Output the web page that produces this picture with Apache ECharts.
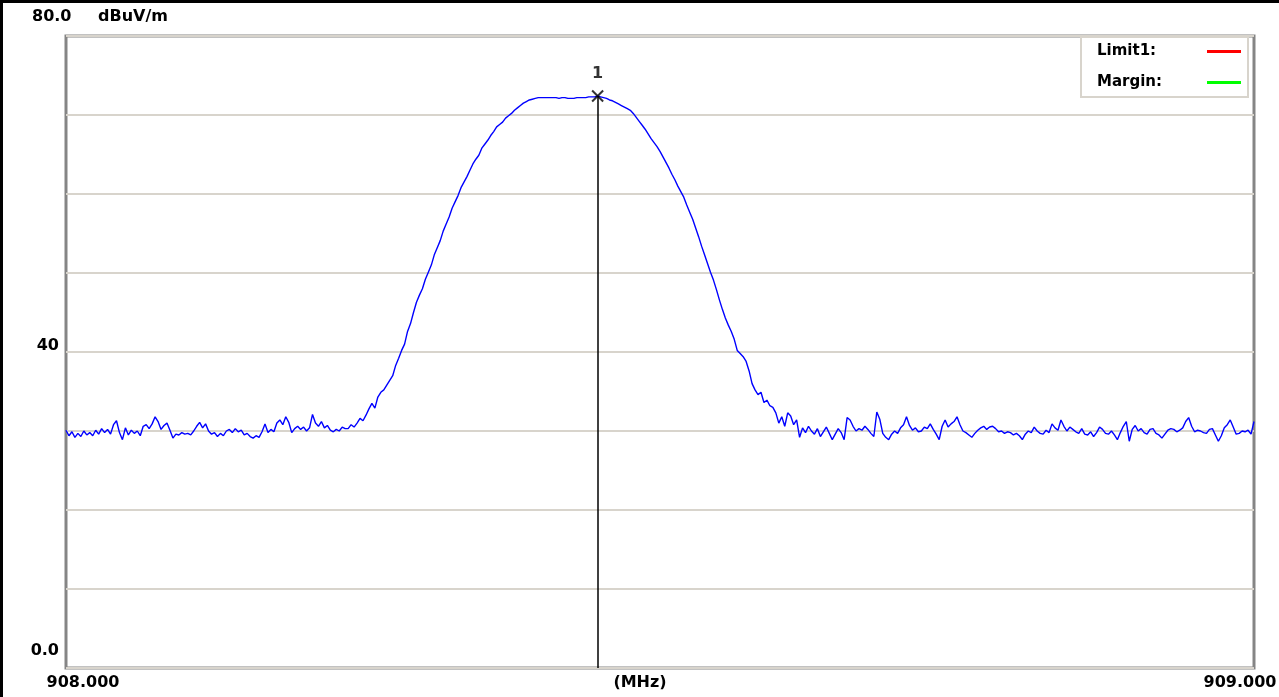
<!DOCTYPE html>
<html><head><meta charset="utf-8">
<script src="https://cdn.jsdelivr.net/npm/echarts@6/dist/echarts.min.js"></script>
<style>html,body{margin:0;padding:0;background:#fff;overflow:hidden}#c{width:1279px;height:697px}</style>
</head><body><div id="c"></div>
<script>
// ---- data ----
const startFreq = 908.0;      // MHz
const stopFreq = 909.0;       // MHz
const stepFreq = 0.0025;      // MHz per sweep point
const levels = [
30.1,29.4,29.9,29.2,29.7,29.3,30.0,29.5,29.8,29.4,
30.1,29.6,30.3,29.8,30.2,29.6,30.8,31.3,29.8,28.9,
30.4,29.5,30.1,29.7,30.0,29.4,30.6,30.8,30.3,30.9,
31.8,31.2,30.2,30.7,31.0,30.1,29.1,29.6,29.5,29.8,
29.6,29.7,29.5,30.0,30.6,31.1,30.4,30.9,30.0,29.6,
29.8,29.3,29.7,29.4,30.0,30.2,29.8,30.3,29.9,30.1,
29.5,29.7,29.3,29.1,29.4,29.2,29.9,30.9,29.8,30.2,
29.9,31.0,31.4,30.8,31.8,31.1,29.8,30.3,30.6,30.2,
30.5,30.0,30.4,32.1,31.0,30.6,31.2,30.4,30.7,30.1,
29.9,30.2,30.0,30.5,30.3,
30.3,30.8,30.5,31.0,31.6,
31.3,32.0,32.8,33.5,32.9,34.3,34.9,35.2,35.8,36.4,
37.0,38.3,39.2,40.2,41.0,42.6,43.6,45.0,46.3,47.2,
48.0,49.2,50.1,51.0,52.3,53.2,54.1,55.3,56.2,57.1,
58.2,59.0,59.8,60.8,61.5,62.2,63.0,63.8,64.4,64.9,
65.8,66.3,66.8,67.4,67.9,68.5,68.8,69.1,69.6,69.9,
70.2,70.6,70.9,71.2,71.5,71.7,71.9,72.0,72.1,72.2,
72.2,72.2,72.2,72.2,72.2,72.2,72.1,72.2,72.2,72.1,
72.1,72.1,72.2,72.2,72.2,72.2,72.3,72.3,72.3,
72.4,
72.3,72.2,72.1,71.9,71.8,71.6,71.4,71.2,71.0,70.8,
70.6,70.2,69.7,69.2,68.7,68.2,67.6,67.0,66.5,66.0,
65.4,64.7,64.0,63.3,62.5,61.8,61.0,60.3,59.6,58.6,
57.7,56.8,55.7,54.6,53.4,52.3,51.2,50.1,49.1,47.9,
46.6,45.4,44.3,43.4,42.6,41.6,40.2,39.8,39.4,38.8,
37.6,36.0,35.2,34.6,34.9,33.6,33.9,33.2,33.0,32.3,
31.0,31.8,30.6,32.3,31.9,30.8,31.4,29.2,
30.4,29.8,30.6,30.0,29.6,30.3,29.3,29.9,30.5,29.7,
28.9,29.6,30.3,29.8,28.9,31.7,31.4,30.6,30.0,30.3,
30.1,30.6,30.2,29.7,29.3,32.4,31.5,29.7,29.2,28.9,
29.6,30.0,29.7,30.4,30.8,31.8,30.7,30.1,30.4,29.9,
30.0,30.5,30.3,30.9,30.2,29.6,28.9,30.6,31.4,30.5,
30.9,31.2,31.8,30.8,30.0,29.8,29.5,29.2,29.7,30.1,
30.4,30.6,30.2,30.5,30.6,30.3,29.9,30.0,29.7,29.9,
29.8,29.5,29.7,29.4,28.9,29.6,30.0,29.8,30.5,30.0,
29.7,29.6,30.1,29.8,30.9,30.4,30.1,31.4,30.6,30.0,
30.5,30.2,29.9,29.7,30.3,29.6,29.5,29.9,29.3,29.8,
30.5,30.2,29.7,29.6,30.0,29.5,28.9,29.8,30.6,31.2,
28.7,30.2,30.7,30.0,30.3,29.8,29.6,30.2,30.3,29.7,
29.5,29.1,29.6,30.1,30.3,30.2,29.9,30.1,30.4,31.2,
31.7,30.6,29.9,30.1,30.0,29.8,29.7,30.2,30.3,29.5,
28.7,29.4,30.4,30.8,31.4,30.5,29.6,29.7,30.0,29.9,
30.1,29.6,31.2
];
const markerNames = ['1'];
const markerIndexes = [179];
const legendNames = ['Limit1:', 'Margin:'];
const legendColors = ['#ff0000', '#00ff00'];
const yTickValues = [80, 40, 0];
const yTickLabels = ['80.0', '40', '0.0'];
const xTickValues = [908.0, 909.0];
const xTickLabels = ['908.000', '909.000'];
const yUnit = 'dBuV/m';
const xUnit = '(MHz)';
const yMin = 0, yMax = 80, yStep = 10;

// ---- chart ----
const FONT = 'DejaVu Sans';
const trace = levels.map((v, i) => [startFreq + i * stepFreq, v]);
const markers = markerIndexes.map((idx, k) => ({
  value: [startFreq + idx * stepFreq, levels[idx]], name: markerNames[k]
}));

const chart = echarts.init(document.getElementById('c'), null, {renderer: 'canvas'});
const option = {
  animation: false,
  backgroundColor: '#ffffff',
  grid: {left: 66, top: 36, width: 1188, height: 632, show: true,
         borderColor: '#858585', borderWidth: 3, backgroundColor: '#ffffff'},
  xAxis: {type: 'value', min: startFreq, max: stopFreq,
          axisLine: {show: false}, axisTick: {show: false},
          axisLabel: {show: false}, splitLine: {show: false}},
  yAxis: {type: 'value', min: yMin, max: yMax, interval: yStep,
          axisLine: {show: false}, axisTick: {show: false}, axisLabel: {show: false},
          splitLine: {show: true, lineStyle: {color: '#d8d4cc', width: 2}}},
  legend: {
    data: legendNames, right: 31, top: 37, orient: 'vertical', align: 'right',
    icon: 'rect', itemWidth: 34, itemHeight: 3, itemGap: 16,
    padding: [7, 7, 7, 16], borderColor: '#d8d4cc', borderWidth: 2,
    backgroundColor: '#ffffff', selectedMode: false,
    formatter: n => '{t|' + n + '}',
    textStyle: {rich: {t: {width: 105, align: 'left', lineHeight: 18,
      fontFamily: FONT, fontWeight: 'bold', fontSize: 15, color: '#000'}}}
  },
  series: [
    {name: 'Trace', type: 'line', data: trace, showSymbol: false, z: 3,
     lineStyle: {color: '#0000ff', width: 1.4}, itemStyle: {color: '#0000ff'}},
    {name: legendNames[0], type: 'line', data: [], color: legendColors[0]},
    {name: legendNames[1], type: 'line', data: [], color: legendColors[1]},
    {name: 'Marker', type: 'scatter', data: markers, z: 5,
     symbol: 'path://M0,0L10,10M10,0L0,10', symbolSize: 11,
     itemStyle: {color: 'rgba(0,0,0,0)', borderColor: '#000', borderWidth: 2},
     label: {show: true, position: 'top', distance: 8, formatter: p => p.name,
             fontFamily: FONT, fontWeight: 'bold', fontSize: 16, color: '#000'},
     markLine: {silent: true, symbol: ['none', 'none'], label: {show: false},
       lineStyle: {color: '#000', width: 1.5, type: 'solid'},
       data: markers.map(m => [{coord: [m.value[0], yMin]}, {coord: m.value}])}}
  ]
};
chart.setOption(option);

// text labels anchored on the axes
const txt = (x, y, s, align) => ({type: 'text', x: x, y: y, z: 10,
  style: {text: s, fill: '#000', font: 'bold 16px "' + FONT + '"',
          textAlign: align, textVerticalAlign: 'middle'}});
const g = [];
yTickValues.forEach((v, k) => {
  const p = chart.convertToPixel({gridIndex: 0}, [startFreq, v]);
  if (k === 0) g.push(txt(p[0] - 34, p[1] - 19.5, yTickLabels[k], 'left'));
  else g.push(txt(p[0] - 7, p[1] - (v === 0 ? 17 : 6.5), yTickLabels[k], 'right'));
});
xTickValues.forEach((v, k) => {
  const p = chart.convertToPixel({gridIndex: 0}, [v, yMin]);
  g.push(txt(p[0] + (k === 0 ? 17 : -14), p[1] + 15, xTickLabels[k], 'center'));
});
const topLeft = chart.convertToPixel({gridIndex: 0}, [startFreq, yMax]);
const midBottom = chart.convertToPixel({gridIndex: 0}, [(startFreq + stopFreq) / 2, yMin]);
g.push(txt(topLeft[0] + 32, topLeft[1] - 19.5, yUnit, 'left'));
g.push(txt(midBottom[0] - 20, midBottom[1] + 15, xUnit, 'center'));
// window frame (top and left edges)
g.push({type: 'rect', shape: {x: 0, y: 0, width: 1279, height: 3}, style: {fill: '#000'}, z: 10});
g.push({type: 'rect', shape: {x: 0, y: 0, width: 3, height: 697}, style: {fill: '#000'}, z: 10});
chart.setOption({graphic: g});
</script>
</body></html>
